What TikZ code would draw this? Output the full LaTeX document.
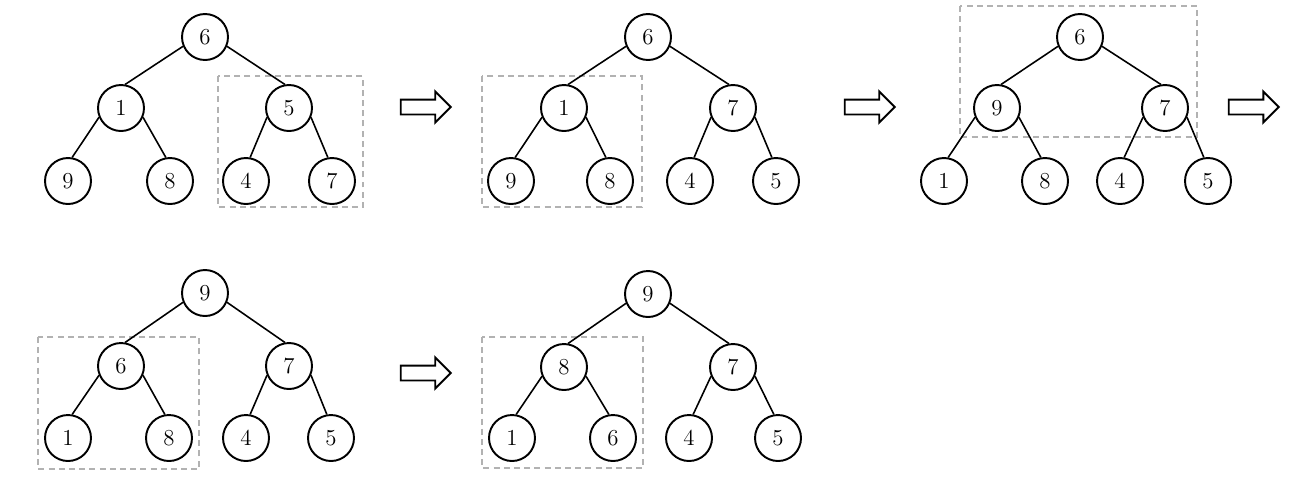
\documentclass[tikz,border=0pt]{standalone}
\usetikzlibrary{shapes.arrows}
\tikzstyle{heapnode} = [circle, draw, fill=white, line width=1.1pt, minimum size=0.92cm, inner sep=0pt, font=\fontsize{13}{15}\selectfont]
\tikzstyle{edge} = [line width=0.9pt]
\tikzstyle{subtree} = [draw=gray!60, line width=0.8pt, dash pattern=on 3.4pt off 2.4pt]
\tikzstyle{step_arrow} = [single arrow, draw, line width=1.1pt, minimum height=1.0cm, single arrow head extend=0.16cm, single arrow head indent=0pt, inner xsep=0pt, inner ysep=0.13cm]

\begin{document}
\begin{tikzpicture}[x=0.02cm, y=-0.02cm]

\useasboundingbox (0,0) rectangle (1293,485);

% step 1

\draw[subtree] (218,76) rectangle (363,207);

\node[heapnode] (a_root) at (205,37) {6};
\node[heapnode] (a_l) at (121,108) {1};
\node[heapnode] (a_r) at (289,108) {5};
\node[heapnode] (a_ll) at (68,181) {9};
\node[heapnode] (a_lr) at (170,181) {8};
\node[heapnode] (a_rl) at (246,181) {4};
\node[heapnode] (a_rr) at (332,181) {7};

\draw[edge] (a_root.-157) -- (a_l.80);
\draw[edge] (a_root.-23) -- (a_r.100);
\draw[edge] (a_l.-157) -- (a_ll.80);
\draw[edge] (a_l.-23) -- (a_lr.100);
\draw[edge] (a_r.-157) -- (a_rl.80);
\draw[edge] (a_r.-23) -- (a_rr.100);

\node[step_arrow] (arr_1) at (422,107) {};

% step 2

\draw[subtree] (482,76) rectangle (642,207);

\node[heapnode] (b_root) at (648,37) {6};
\node[heapnode] (b_l) at (564,108) {1};
\node[heapnode] (b_r) at (733,108) {7};
\node[heapnode] (b_ll) at (511,181) {9};
\node[heapnode] (b_lr) at (610,181) {8};
\node[heapnode] (b_rl) at (690,181) {4};
\node[heapnode] (b_rr) at (776,181) {5};

\draw[edge] (b_root.-157) -- (b_l.80);
\draw[edge] (b_root.-23) -- (b_r.100);
\draw[edge] (b_l.-157) -- (b_ll.80);
\draw[edge] (b_l.-23) -- (b_lr.100);
\draw[edge] (b_r.-157) -- (b_rl.80);
\draw[edge] (b_r.-23) -- (b_rr.100);

\node[step_arrow] (arr_2) at (866,107) {};

% step 3

\draw[subtree] (960,6) rectangle (1197,137);

\node[heapnode] (c_root) at (1080,37) {6};
\node[heapnode] (c_l) at (997,108) {9};
\node[heapnode] (c_r) at (1165,108) {7};
\node[heapnode] (c_ll) at (944,181) {1};
\node[heapnode] (c_lr) at (1045,181) {8};
\node[heapnode] (c_rl) at (1120,181) {4};
\node[heapnode] (c_rr) at (1208,181) {5};

\draw[edge] (c_root.-157) -- (c_l.80);
\draw[edge] (c_root.-23) -- (c_r.100);
\draw[edge] (c_l.-157) -- (c_ll.80);
\draw[edge] (c_l.-23) -- (c_lr.100);
\draw[edge] (c_r.-157) -- (c_rl.80);
\draw[edge] (c_r.-23) -- (c_rr.100);

\node[step_arrow] (arr_3) at (1250,107) {};

% step 4

\draw[subtree] (38,337) rectangle (199,469);

\node[heapnode] (d_root) at (205,293) {9};
\node[heapnode] (d_l) at (121,366) {6};
\node[heapnode] (d_r) at (289,366) {7};
\node[heapnode] (d_ll) at (68,438) {1};
\node[heapnode] (d_lr) at (169,438) {8};
\node[heapnode] (d_rl) at (246,438) {4};
\node[heapnode] (d_rr) at (331,438) {5};

\draw[edge] (d_root.-157) -- (d_l.80);
\draw[edge] (d_root.-23) -- (d_r.100);
\draw[edge] (d_l.-157) -- (d_ll.80);
\draw[edge] (d_l.-23) -- (d_lr.100);
\draw[edge] (d_r.-157) -- (d_rl.80);
\draw[edge] (d_r.-23) -- (d_rr.100);

\node[step_arrow] (arr_4) at (422,373) {};

% step 5

\draw[subtree] (482,337) rectangle (643,468);

\node[heapnode] (e_root) at (648,294) {9};
\node[heapnode] (e_l) at (564,367) {8};
\node[heapnode] (e_r) at (733,367) {7};
\node[heapnode] (e_ll) at (512,438) {1};
\node[heapnode] (e_lr) at (613,438) {6};
\node[heapnode] (e_rl) at (689,438) {4};
\node[heapnode] (e_rr) at (778,438) {5};

\draw[edge] (e_root.-157) -- (e_l.80);
\draw[edge] (e_root.-23) -- (e_r.100);
\draw[edge] (e_l.-157) -- (e_ll.80);
\draw[edge] (e_l.-23) -- (e_lr.100);
\draw[edge] (e_r.-157) -- (e_rl.80);
\draw[edge] (e_r.-23) -- (e_rr.100);

\end{tikzpicture}
\end{document}
